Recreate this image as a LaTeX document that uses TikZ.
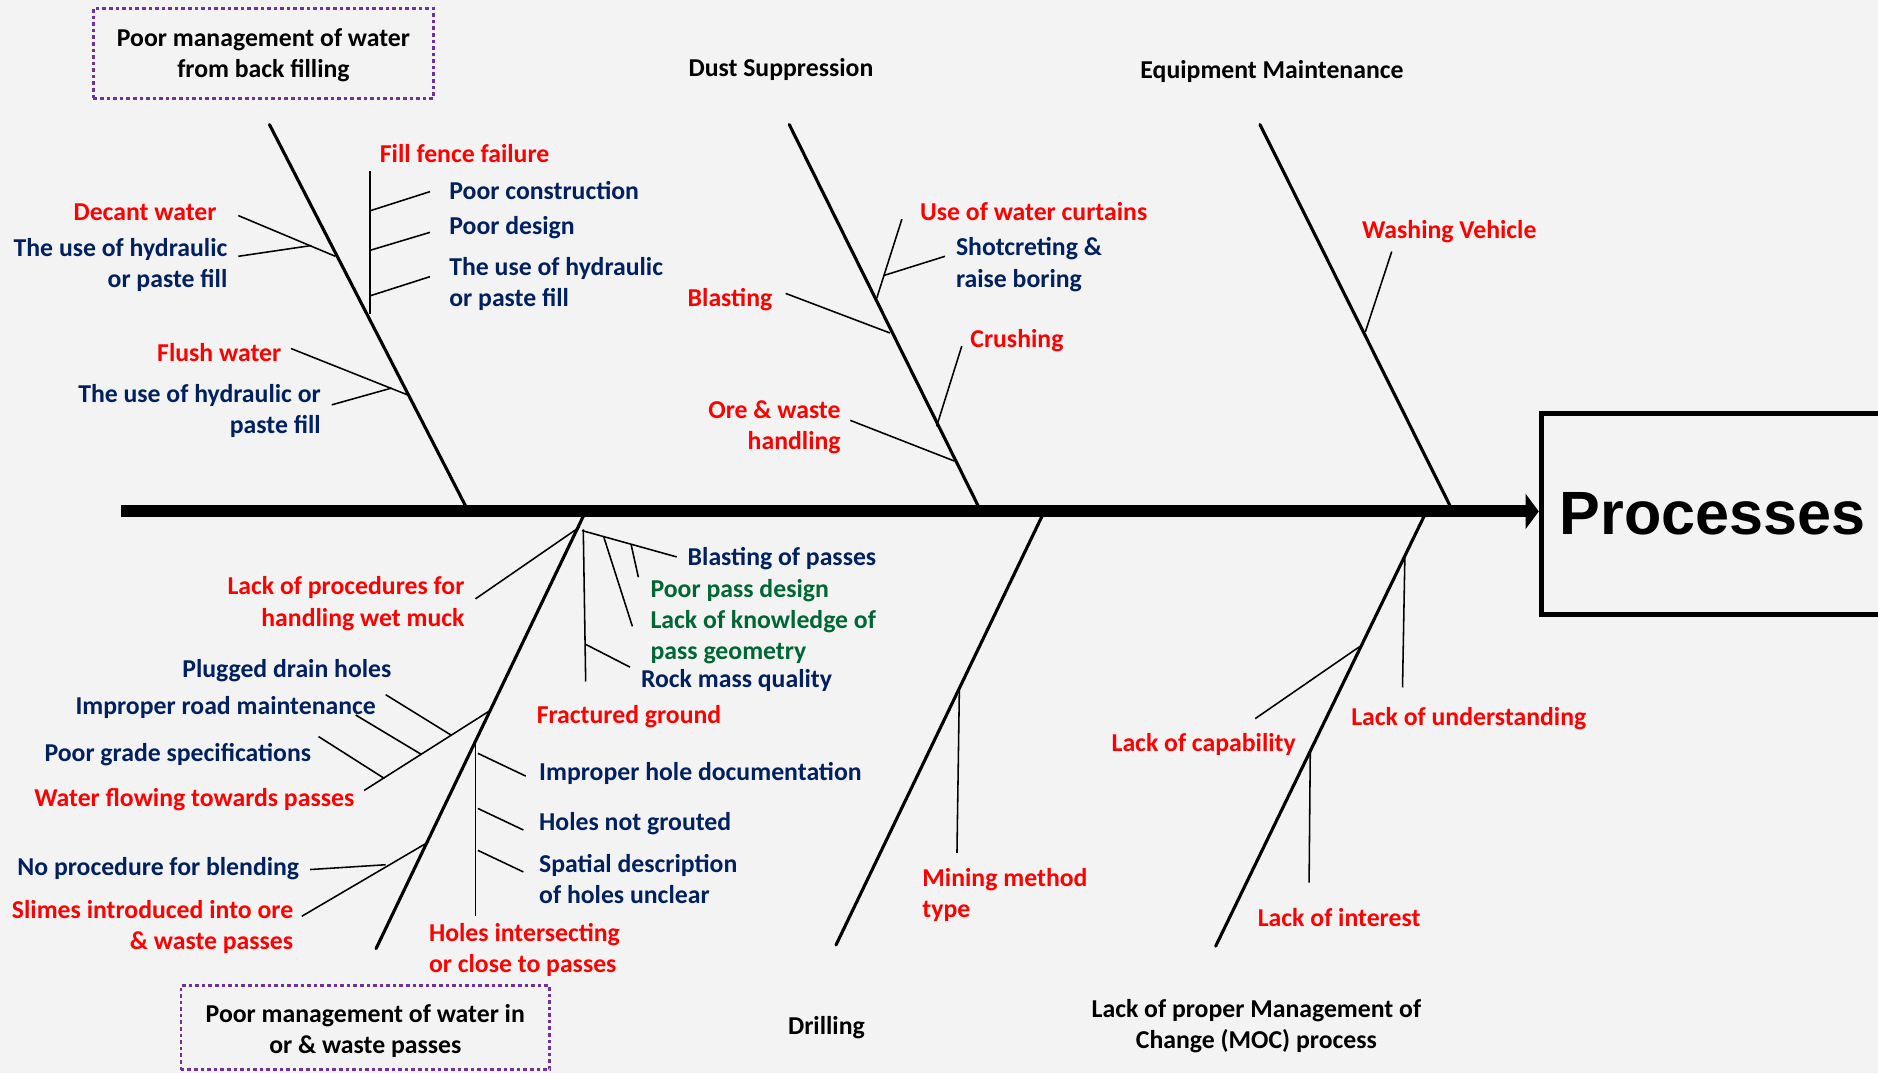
\documentclass[tikz,border=0pt]{standalone}
\usepackage{fontspec}
\setmainfont{Carlito}
\newfontfamily\procfont{Liberation Sans}
\usetikzlibrary{arrows.meta}
\definecolor{bgc}{RGB}{243,243,243}
\definecolor{cred}{RGB}{255,0,0}
\definecolor{cblue}{RGB}{0,32,96}
\definecolor{cgreen}{RGB}{0,102,51}
\definecolor{cpurple}{RGB}{112,48,160}
\newcommand\lblfont{\fontsize{21.5}{26}\selectfont\bfseries}
\newcommand\tw[3]{\coordinate (#1a) at (#2); \coordinate (#1b) at (#3); \draw[twig] (#1a) -- (#1b);}
\tikzset{
  bone/.style={line width=2.6pt, line cap=round},
  twig/.style={line width=1.3pt},
  lbl/.style={font=\lblfont, inner sep=0pt, yshift=-2pt},
  rdl/.style={lbl, text=cred},
  bll/.style={lbl, text=cblue},
  grl/.style={lbl, text=cgreen},
  bkl/.style={lbl, text=black},
  dbox/.style={draw=cpurple, line width=2.2pt, dash pattern=on 3pt off 2.5pt}
}
\begin{document}
\begin{tikzpicture}[x=1pt,y=-1pt]
\fill[bgc] (0,0) rectangle (1568,896);
\useasboundingbox (0,0) rectangle (1568,896);

% effect box and spine
\node[draw, line width=4.5pt, minimum width=286pt, minimum height=168pt, inner sep=0pt,
      font=\procfont\bfseries\fontsize{51}{56}\selectfont] (proc) at (1430,429) {Processes};
\coordinate (spL) at (101,427);
\draw[line width=10pt, -{Triangle[length=11pt,width=29pt]}] (spL) -- (spL -| proc.west);

% bones
\coordinate (b1t) at (225,104); \coordinate (b1b) at (389,423);
\coordinate (b2t) at (659,104); \coordinate (b2b) at (817,423);
\coordinate (b3t) at (1052,104); \coordinate (b3b) at (1211,423);
\coordinate (b4t) at (487,431); \coordinate (b4b) at (314,792);
\coordinate (b5t) at (870,431); \coordinate (b5b) at (698,789);
\coordinate (b6t) at (1189,431); \coordinate (b6b) at (1015,790);
\draw[bone] (b1t) -- (b1b);
\draw[bone] (b2t) -- (b2b);
\draw[bone] (b3t) -- (b3b);
\draw[bone] (b4t) -- (b4b);
\draw[bone] (b5t) -- (b5b);
\draw[bone] (b6t) -- (b6b);

% ---- bone 1 : back filling
\tw{ff}{309,143}{309,262}
\tw{ta}{309,176}{359,160}
\tw{tb}{309,209}{359,194}
\tw{tc}{309,247}{359,231}
\tw{dw}{199,180}{280,214}
\tw{hy}{199,214}{260,205}
\tw{fw}{243,291}{341,330}
\tw{hz}{277,338}{327,324}

\node[dbox, minimum width=284pt, minimum height=75pt] (boxA) at (220,44.5) {};
\node[bkl, align=center] (tA) at (220,44) {Poor management of water\\from back filling};
\node[rdl, anchor=west] (lff) at (317,126) {Fill fence failure};
\node[bll, anchor=west] (lta) at (375,157) {Poor construction};
\node[bll, anchor=west] (ltb) at (375,188) {Poor design};
\node[bll, anchor=west, align=left] (ltc) at (375,235) {The use of hydraulic\\or paste fill};
\node[rdl, anchor=east] (ldw) at (181,175) {Decant water};
\node[bll, anchor=east, align=right] (lhy) at (190,219) {The use of hydraulic\\or paste fill};
\node[rdl, anchor=east] (lfw) at (235,292) {Flush water};
\node[bll, anchor=east, align=right] (lhz) at (268,341.5) {The use of hydraulic or\\paste fill};

% ---- bone 2 : dust suppression
\tw{wc}{753,183}{732,249}
\tw{sh}{789,214}{738,230}
\tw{bs}{656,245}{743,278}
\tw{cr}{803,289}{782,356}
\tw{ow}{710,351}{797,385}
\node[bkl] (tB) at (652,56) {Dust Suppression};
\node[rdl, anchor=west] (lwc) at (768,175) {Use of water curtains};
\node[bll, anchor=west, align=left] (lsh) at (798,219) {Shotcreting \&\\raise boring};
\node[rdl, anchor=east] (lbs) at (645,248) {Blasting};
\node[rdl, anchor=west] (lcr) at (810,282) {Crushing};
\node[rdl, anchor=east, align=right] (low) at (702,355) {Ore \& waste\\handling};

% ---- bone 3 : equipment maintenance
\tw{wv}{1162,210}{1140,277}
\node[bkl] (tC) at (1062,58) {Equipment Maintenance};
\node[rdl, anchor=west] (lwv) at (1137,191) {Washing Vehicle};

% ---- bone 4 : ore & waste passes
\tw{bp}{486,443}{565,465}
\tw{pk}{527,455}{533,482}
\tw{pl}{504,448}{528,523}
\tw{fg}{487,442}{489,569}
\tw{rm}{489,538}{526,557}
\tw{wm}{397,500}{484,440}
\tw{wf}{408,594}{304,660}
\tw{pd}{322,580}{377,614}
\tw{ir}{297,597}{352,630}
\tw{pg}{266,615}{321,650}
\tw{hi}{397,620}{397,765}
\tw{ih}{399,629}{439,648}
\tw{hn}{399,675}{437,693}
\tw{sd}{399,710}{437,728}
\tw{sl}{356,704}{252,765}
\tw{nb}{259,726}{322,722}

\node[bll, anchor=west] (lbp) at (574,464) {Blasting of passes};
\node[grl, anchor=west] (lpk) at (543,491) {Poor pass design};
\node[grl, anchor=west, align=left] (lpl) at (543,530) {Lack of knowledge of\\pass geometry};
\node[bll, anchor=west] (lrm) at (535,566) {Rock mass quality};
\node[rdl, anchor=west] (lfg) at (448,596) {Fractured ground};
\node[rdl, anchor=east, align=right] (lwm) at (388,502) {Lack of procedures for\\handling wet muck};
\node[bll, anchor=east] (lpd) at (327,558) {Plugged drain holes};
\node[bll, anchor=east] (lir) at (314,589) {Improper road maintenance};
\node[bll, anchor=east] (lpg) at (260,628) {Poor grade specifications};
\node[rdl, anchor=east] (lwf) at (296,666) {Water flowing towards passes};
\node[bll, anchor=west] (lih) at (450,644) {Improper hole documentation};
\node[bll, anchor=west] (lhn) at (450,686) {Holes not grouted};
\node[bll, anchor=west, align=left] (lsd) at (450,732) {Spatial description\\of holes unclear};
\node[rdl, anchor=west, align=left] (lhi) at (358,791.5) {Holes intersecting\\or close to passes};
\node[bll, anchor=east] (lnb) at (250,723) {No procedure for blending};
\node[rdl, anchor=east, align=right] (lsl) at (245,772) {Slimes introduced into ore\\\& waste passes};
\node[dbox, minimum width=308pt, minimum height=70pt] (boxD) at (305,858) {};
\node[bkl, align=center] (tD) at (305,859) {Poor management of water in\\or \& waste passes};

% ---- bone 5 : drilling
\tw{mm}{801,575}{799,712}
\node[rdl, anchor=west, align=left] (lmm) at (770,745) {Mining method\\type};
\node[bkl] (tE) at (690,856) {Drilling};

% ---- bone 6 : MOC
\tw{lu}{1173,463}{1171,574}
\tw{lc}{1135,540}{1048,600}
\tw{li}{1094,626}{1093,737}
\node[rdl, anchor=west] (llu) at (1128,598) {Lack of understanding};
\node[rdl] (llc) at (1005,620) {Lack of capability};
\node[rdl, anchor=west] (lli) at (1050,764) {Lack of interest};
\node[bkl, align=center] (tF) at (1049,855) {Lack of proper Management of\\Change (MOC) process};
\end{tikzpicture}
\end{document}
